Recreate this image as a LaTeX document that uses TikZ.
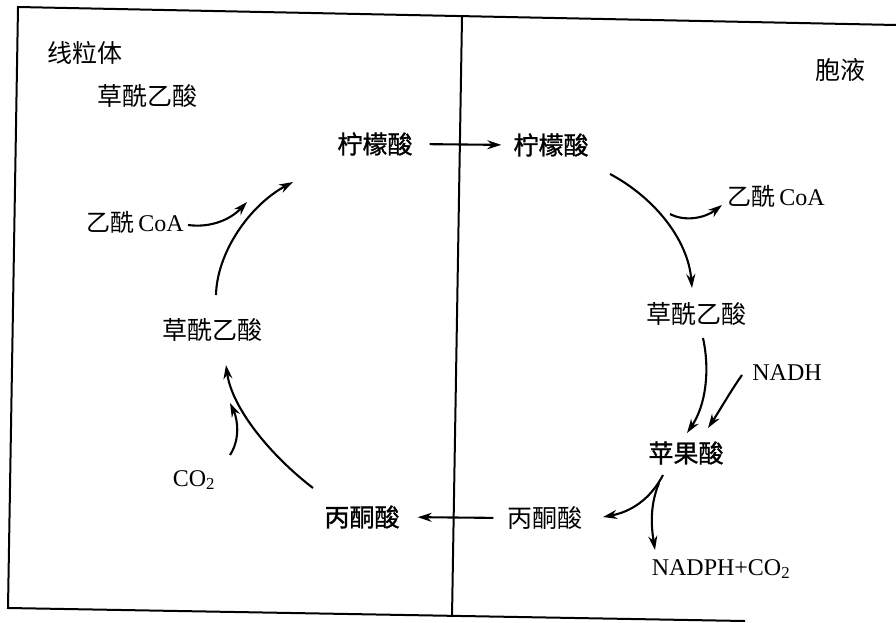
\documentclass[tikz,border=0pt]{standalone}
\usepackage{fontspec}
\setmainfont{Liberation Serif}
\newfontfamily\cjk{Noto Sans CJK SC}
\newfontfamily\cjkb{Noto Sans CJK SC}[FakeBold=1.2]
\usetikzlibrary{arrows.meta}
\begin{document}
\begin{tikzpicture}[x=1pt,y=-1pt,
  zh/.style={inner sep=0pt, font=\cjk\fontsize{25}{28}\selectfont},
  zhb/.style={inner sep=0pt, font=\cjkb\fontsize{25}{28}\selectfont},
  lat/.style={inner sep=0pt, font=\fontsize{24}{28}\selectfont},
  arr/.style={line width=2.1pt, -{Stealth[length=14pt,width=9pt]}},
  frame/.style={line width=2pt}]
\useasboundingbox (0,0) rectangle (896,623);
% frame
\coordinate (tl) at (18,7);
\coordinate (tr) at (896,25);
\coordinate (bl) at (8,608);
\coordinate (br) at (745,621);
\coordinate (dt) at (462,17);
\coordinate (db) at (452,617);
\draw[frame] (tr) -- (tl) -- (bl) -- (br);
\draw[frame] (dt) -- (db);
% labels
\node[zh] (mito) at (85,53) {线粒体};
\node[zh] (oaT) at (147,96) {草酰乙酸};
\node[zh] (cyto) at (840,70) {胞液};
\node[zhb] (cL) at (375,144) {柠檬酸};
\node[zhb] (cR) at (551,145) {柠檬酸};
\node[lat] (acL) at (135,222) {{\cjk 乙酰}\,CoA};
\node[lat] (acR) at (776,196) {{\cjk 乙酰}\,CoA};
\node[zh] (oaL) at (212,330) {草酰乙酸};
\node[zh] (oaR) at (696,314) {草酰乙酸};
\node[lat] (nadh) at (787,373) {NADH};
\node[zhb] (mal) at (686,453) {苹果酸};
\node[lat] (co2) at (194,480) {CO\textsubscript{2}};
\node[zhb] (pL) at (362,517) {丙酮酸};
\node[zh] (pR) at (545,518) {丙酮酸};
\node[lat] (nadph) at (721,569) {NADPH+CO\textsubscript{2}};
% straight arrows
\draw[arr, shorten <=17pt, shorten >=12pt] (cL.east) -- (cR.west);
\draw[arr, shorten <=14pt, shorten >=18pt] (pR.west) -- (pL.east);
% curved connectors (free ends as named coordinates)
\coordinate (a1) at (610,174); \coordinate (a2) at (692,288);
\draw[arr] (a1) .. controls (655,198) and (688,240) .. (a2);
\coordinate (b1) at (670,214); \coordinate (b2) at (722,205);
\draw[arr] (b1) .. controls (685,222) and (705,218) .. (b2);
\coordinate (c1) at (703,338); \coordinate (c2) at (687,433);
\draw[arr] (c1) .. controls (710,370) and (706,405) .. (c2);
\coordinate (d1) at (742,375); \coordinate (d2) at (708,428);
\draw[arr] (d1) .. controls (730,392) and (720,410) .. (d2);
\coordinate (e1) at (663,475); \coordinate (e2) at (603,517);
\draw[arr] (e1) .. controls (650,500) and (630,512) .. (e2);
\coordinate (f1) at (659,483); \coordinate (f2) at (655,550);
\draw[arr] (f1) .. controls (650,505) and (651,525) .. (f2);
\coordinate (g1) at (313,488); \coordinate (g2) at (226,365);
\draw[arr] (g1) .. controls (270,455) and (232,408) .. (g2);
\coordinate (h1) at (230,455); \coordinate (h2) at (230,403);
\draw[arr] (h1) .. controls (240,440) and (238,420) .. (h2);
\coordinate (i1) at (216,295); \coordinate (i2) at (293,182);
\draw[arr] (i1) .. controls (217,252) and (250,205) .. (i2);
\coordinate (j1) at (188,225); \coordinate (j2) at (247,202);
\draw[arr] (j1) .. controls (210,228) and (230,220) .. (j2);
\end{tikzpicture}
\end{document}
